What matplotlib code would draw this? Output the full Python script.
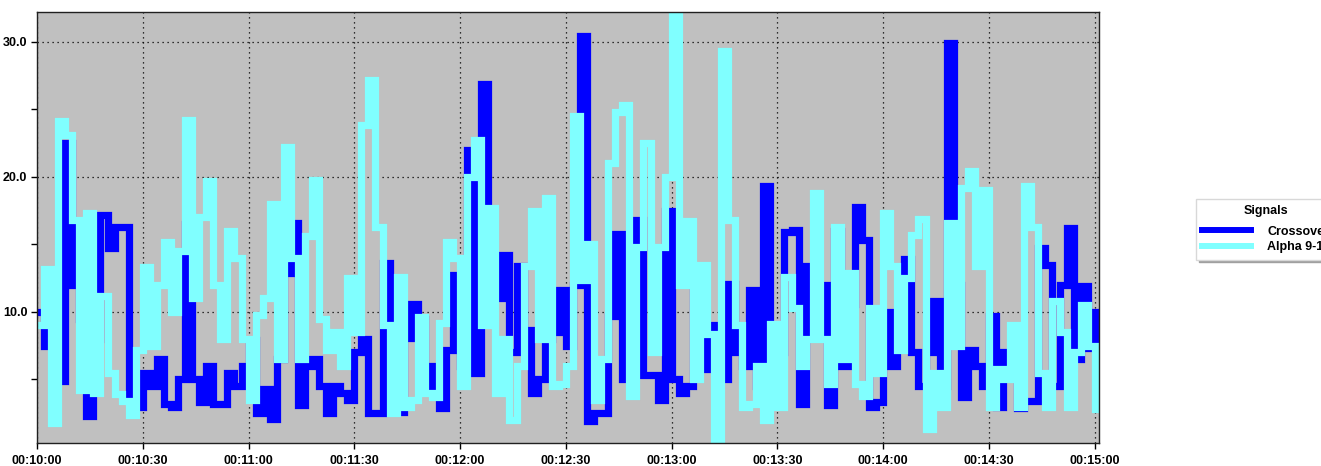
import matplotlib
matplotlib.use("Agg")
import matplotlib.pyplot as plt
from matplotlib.ticker import FuncFormatter, MultipleLocator
import numpy as np

plt.rcParams['font.family'] = ['Liberation Sans', 'DejaVu Sans']

# samples every 2 s starting at 00:10:00
step_s = 2
crossover = [10.0, 7.5, 9.7, 4.9, 22.5, 12.0, 9.5, 2.3, 8.0, 17.2,
             14.7, 16.3, 16.3, 3.5, 3.0, 5.5, 4.5, 6.5, 3.2, 3.0,
             5.0, 16.5, 5.0, 3.3, 6.0, 3.2, 3.2, 5.5, 4.5, 6.0,
             7.9, 2.5, 4.3, 2.1, 6.5, 12.9, 16.6, 3.1, 6.0, 6.5,
             4.5, 2.5, 4.5, 4.0, 3.5, 7.0, 8.0, 2.5, 2.5, 13.6,
             6.3, 2.6, 8.1, 10.6, 9.5, 4.5, 6.0, 2.9, 7.2, 12.7,
             6.0, 22.0, 5.5, 26.9, 13.0, 11.0, 14.2, 7.0, 13.4, 8.7,
             4.0, 5.0, 8.0, 8.5, 11.6, 7.5, 12.0, 30.4, 1.9, 2.5,
             2.5, 9.7, 15.8, 5.0, 14.0, 16.8, 5.3, 5.3, 3.5, 17.5,
             5.0, 4.0, 4.5, 11.6, 5.8, 9.0, 6.5, 5.0, 12.1, 7.0,
             6.0, 11.6, 4.5, 19.3, 5.3, 7.0, 15.9, 16.1, 3.2, 13.4,
             11.0, 12.0, 3.1, 16.0, 6.0, 10.6, 17.8, 15.3, 3.0, 3.3,
             10.0, 6.0, 8.4, 13.9, 7.0, 4.5, 7.0, 10.8, 4.5, 29.9,
             12.0, 3.7, 7.2, 6.0, 4.5, 9.7, 3.0, 7.0, 5.5, 2.9,
             3.4, 3.4, 14.7, 13.5, 4.5, 12.0, 16.2, 6.5, 11.9, 7.3,
             10.0]
alpha = [9.0, 13.2, 1.8, 24.1, 23.1, 16.8, 4.2, 17.3, 4.0, 11.2,
         5.5, 3.9, 3.4, 2.4, 7.2, 13.3, 7.5, 12.0, 15.2, 10.0,
         14.5, 24.2, 11.0, 17.0, 19.7, 12.0, 8.0, 16.0, 14.0, 8.0,
         3.5, 9.8, 11.0, 18.0, 6.5, 22.2, 14.0, 6.5, 15.6, 19.8,
         9.5, 7.2, 8.5, 6.0, 12.5, 8.5, 23.8, 27.2, 16.3, 9.0,
         2.5, 12.6, 3.0, 3.5, 9.6, 4.0, 3.7, 9.2, 15.2, 14.0,
         4.5, 20.0, 22.7, 9.0, 17.7, 4.0, 8.0, 2.0, 6.0, 13.4,
         17.5, 8.0, 18.4, 4.5, 4.7, 6.0, 24.5, 12.4, 15.0, 3.5,
         6.5, 21.0, 24.8, 25.3, 3.8, 14.8, 22.5, 7.0, 14.8, 20.0,
         31.9, 12.0, 16.7, 5.0, 13.5, 8.4, 0.6, 29.3, 16.8, 9.0,
         3.0, 3.2, 6.0, 2.0, 9.1, 3.0, 12.6, 10.3, 6.0, 8.0,
         18.8, 8.0, 4.7, 16.3, 6.5, 12.9, 4.7, 3.8, 10.3, 5.5,
         17.3, 13.4, 7.2, 12.5, 15.7, 16.9, 1.3, 5.5, 3.0, 16.6,
         7.5, 19.2, 20.4, 13.4, 19.0, 3.0, 5.8, 5.0, 9.0, 3.0,
         19.3, 16.3, 5.5, 3.0, 10.8, 8.5, 3.0, 7.0, 10.5, 7.5,
         2.8]
series_names = ['Crossover', 'Alpha 9-13']
start_minute = 10

t_blue = np.arange(len(crossover)) * step_s
t_cyan = np.arange(len(alpha)) * step_s

fig = plt.figure(figsize=(13.21, 4.66), dpi=100)
ax = fig.add_axes([37 / 1321, 23 / 466, 1062 / 1321, 431 / 466])
ax.set_facecolor('#c0c0c0')

# thick stepped traces, cyan drawn over blue
ax.plot(t_blue, crossover, color='#0000ff', lw=5.2, drawstyle='steps-post',
        solid_joinstyle='miter', label=series_names[0])
ax.plot(t_cyan, alpha, color='#80ffff', lw=5.2, drawstyle='steps-post',
        solid_joinstyle='miter', label=series_names[1])

ax.set_xlim(0, 301.2)
ax.set_ylim(0.3, 32.2)


def fmt_time(x, pos):
    s = int(round(x))
    return '00:%02d:%02d' % (start_minute + s // 60, s % 60)


ax.xaxis.set_major_locator(MultipleLocator(30))
ax.xaxis.set_major_formatter(FuncFormatter(fmt_time))
ax.yaxis.set_major_locator(MultipleLocator(10))
ax.yaxis.set_minor_locator(MultipleLocator(5))
ax.yaxis.set_major_formatter(FuncFormatter(lambda v, p: '%.1f' % v))

ax.grid(True, which='major', color='black', linestyle=(0, (1, 3)), linewidth=0.9)
ax.tick_params(axis='both', which='both', direction='out', length=4,
               width=1, labelsize=9, colors='black')
ax.tick_params(axis='x', pad=5)
ax.tick_params(axis='y', pad=3)
for lab in ax.get_xticklabels() + ax.get_yticklabels():
    lab.set_fontweight('bold')
for sp in ax.spines.values():
    sp.set_linewidth(1)
    sp.set_color('#202020')

leg = ax.legend(loc='upper left', bbox_to_anchor=(1196 / 1321, 1 - 199 / 466),
                bbox_transform=fig.transFigure, borderaxespad=0, title='Signals',
                prop={'weight': 'bold', 'size': 9},
                title_fontproperties={'weight': 'bold', 'size': 9},
                handlelength=3.9, handletextpad=1.3, borderpad=0.5,
                labelspacing=0.3, fancybox=False, framealpha=1,
                edgecolor='#d8d8d8', shadow={'color': '#a0a0a0', 'alpha': 1})
for line in leg.get_lines():
    line.set_linewidth(4.3)
leg._legend_box.sep = 6  # a bit more room under the title

fig.savefig('out.png', dpi=100)
